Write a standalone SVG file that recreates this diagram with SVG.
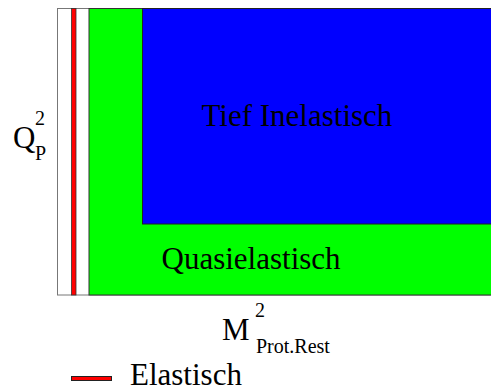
<svg xmlns="http://www.w3.org/2000/svg" width="491" height="387" viewBox="0 0 491 387">
<rect width="491" height="387" fill="#fff"/>
<g id="frame"><rect x="57.5" y="8.5" width="440" height="286.5" fill="#fff" stroke="#777" stroke-width="1"/></g>
<g id="quasielastisch">
<rect x="89" y="8.5" width="410" height="286.5" fill="#00ff00" stroke="#333" stroke-width="1"/>
<text font-size="31" font-family="'Liberation Serif', serif" x="161.5" y="269">Quasielastisch</text>
</g>
<g id="tief-inelastisch">
<rect x="142.5" y="8.5" width="360" height="215.5" fill="#0000ff" stroke="#222" stroke-width="1"/>
<text font-size="31" font-family="'Liberation Serif', serif" x="201.5" y="126">Tief Inelastisch</text>
</g>
<g id="elastisch-strip"><rect x="71.5" y="8.5" width="4.5" height="286.5" fill="#ff0000" stroke="#333" stroke-width="0.8"/></g>
<g id="axis-y">
<text font-size="31" font-family="'Liberation Serif', serif" x="13" y="148">Q</text>
<text font-size="20" font-family="'Liberation Serif', serif" x="35" y="125">2</text>
<text font-size="20" font-family="'Liberation Serif', serif" x="35" y="160">P</text>
</g>
<g id="axis-x">
<text font-size="31" font-family="'Liberation Serif', serif" x="222" y="340">M</text>
<text font-size="20" font-family="'Liberation Serif', serif" x="255" y="317">2</text>
<text font-size="20" font-family="'Liberation Serif', serif" x="256" y="353">Prot.Rest</text>
</g>
<g id="legend">
<rect x="71.5" y="376.5" width="40" height="4" fill="#ff0000" stroke="#222" stroke-width="1"/>
<text font-size="31" font-family="'Liberation Serif', serif" x="130" y="384.5">Elastisch</text>
</g>
</svg>
